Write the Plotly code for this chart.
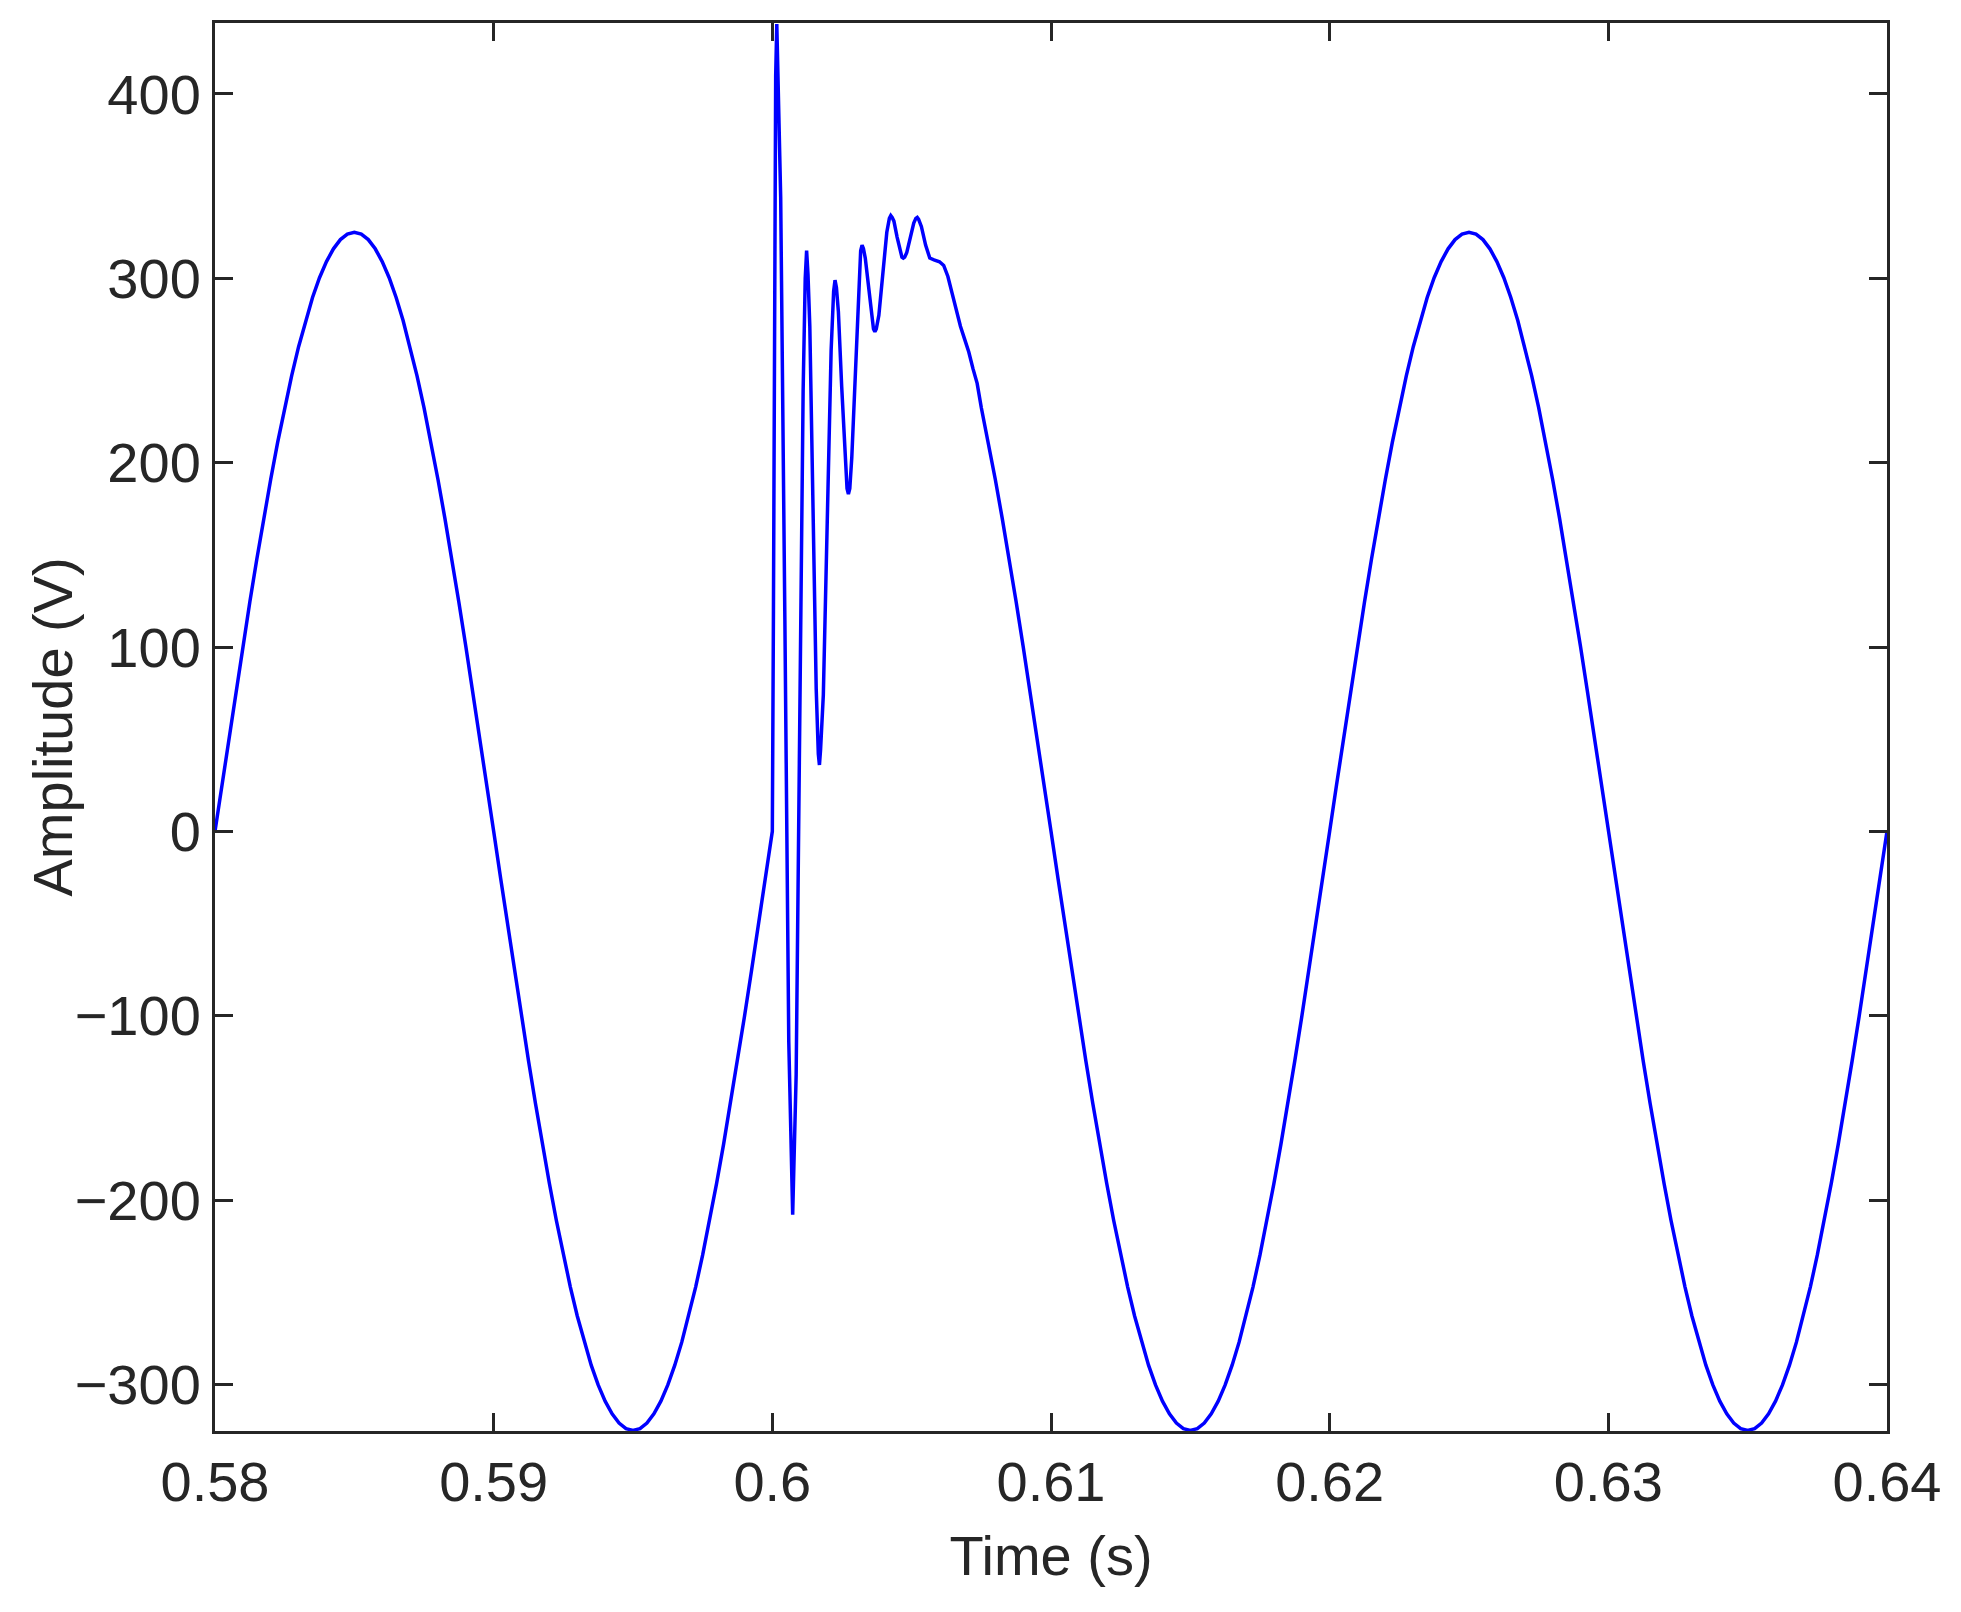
import plotly.graph_objects as go

# ---- data ----
STEP = 0.00025
t_pre_start = 0.58
v_pre = [0, 25.5, 50.8, 75.9, 100.4, 124.4, 147.6, 169.8, 191.0, 211.1, 229.8, 247.1, 262.9, 277.1, 289.6,
         300.3, 309.1, 316.0, 321.0, 324.0, 325.0,
         324.0, 321.0, 316.0, 309.1, 300.3, 289.6, 277.1, 262.9, 247.1, 229.8, 211.1, 191.0, 169.8, 147.6,
         124.4, 100.4, 75.9, 50.8, 25.5, 0,
         -25.5, -50.8, -75.9, -100.4, -124.4, -147.6, -169.8, -191.0, -211.1, -229.8, -247.1, -262.9, -277.1,
         -289.6, -300.3, -309.1, -316.0, -321.0, -324.0, -325.0,
         -324.0, -321.0, -316.0, -309.1, -300.3, -289.6, -277.1, -262.9, -247.1, -229.8, -211.1, -191.0,
         -169.8, -147.6, -124.4, -100.4, -75.9, -50.8, -25.5, 0]

t_fault = [0.60004, 0.60008, 0.60012, 0.60016, 0.60030, 0.60045, 0.60059, 0.60073, 0.600855, 0.60098,
           0.601105, 0.60118, 0.60123, 0.60128, 0.601345, 0.60146, 0.601575, 0.60165, 0.60169, 0.60173,
           0.60183, 0.60197, 0.60211, 0.60220, 0.60225, 0.60230, 0.60237, 0.60249, 0.60261, 0.60268,
           0.60273, 0.60278, 0.602852, 0.602975, 0.603098, 0.60317, 0.60322, 0.60327, 0.603335, 0.60345,
           0.603565, 0.60363, 0.60368, 0.60373, 0.603823, 0.603965, 0.604108, 0.60420, 0.60425, 0.60430,
           0.604363, 0.604475, 0.604588, 0.60465, 0.60470, 0.60475, 0.604825, 0.60495, 0.605075, 0.60515,
           0.60520, 0.60525, 0.60535, 0.60550, 0.60565, 0.60580, 0.60600, 0.60615, 0.60630, 0.60645,
           0.60660, 0.60675, 0.60690, 0.60705, 0.60720, 0.60735]
v_fault = [120, 300, 410, 438, 344, 115, -114, -208, -132, 53.5,
           239, 300, 315, 302, 274, 175.5, 77, 42, 36, 44,
           74, 167.5, 261, 293, 299, 295, 282, 241, 200, 186,
           183, 186, 203, 250.5, 298, 315, 318, 316, 311, 294.5,
           278, 272.5, 271, 272.5, 280, 302.5, 325, 332.5, 334, 333,
           331, 322.5, 314, 311.5, 311, 311.5, 314, 322, 330, 332.5,
           333, 332, 328, 318, 311, 310, 309, 307, 301, 292,
           282, 274, 267, 260, 251, 243]

t_post_start = 0.6075
v_post = [229.8, 211.1, 191.0, 169.8, 147.6, 124.4, 100.4, 75.9, 50.8, 25.5, 0,
          -25.5, -50.8, -75.9, -100.4, -124.4, -147.6, -169.8, -191.0, -211.1, -229.8, -247.1, -262.9, -277.1,
          -289.6, -300.3, -309.1, -316.0, -321.0, -324.0, -325.0,
          -324.0, -321.0, -316.0, -309.1, -300.3, -289.6, -277.1, -262.9, -247.1, -229.8, -211.1, -191.0,
          -169.8, -147.6, -124.4, -100.4, -75.9, -50.8, -25.5, 0,
          25.5, 50.8, 75.9, 100.4, 124.4, 147.6, 169.8, 191.0, 211.1, 229.8, 247.1, 262.9, 277.1, 289.6,
          300.3, 309.1, 316.0, 321.0, 324.0, 325.0,
          324.0, 321.0, 316.0, 309.1, 300.3, 289.6, 277.1, 262.9, 247.1, 229.8, 211.1, 191.0, 169.8, 147.6,
          124.4, 100.4, 75.9, 50.8, 25.5, 0,
          -25.5, -50.8, -75.9, -100.4, -124.4, -147.6, -169.8, -191.0, -211.1, -229.8, -247.1, -262.9, -277.1,
          -289.6, -300.3, -309.1, -316.0, -321.0, -324.0, -325.0,
          -324.0, -321.0, -316.0, -309.1, -300.3, -289.6, -277.1, -262.9, -247.1, -229.8, -211.1, -191.0,
          -169.8, -147.6, -124.4, -100.4, -75.9, -50.8, -25.5, 0]

x_tick_vals = [0.58, 0.59, 0.60, 0.61, 0.62, 0.63, 0.64]
x_tick_text = ["0.58", "0.59", "0.6", "0.61", "0.62", "0.63", "0.64"]
y_tick_vals = [-300, -200, -100, 0, 100, 200, 300, 400]
y_tick_text = ["\u2212300", "\u2212200", "\u2212100", "0", "100", "200", "300", "400"]
x_title = "Time (s)"
y_title = "Amplitude (V)"

# ---- assemble series ----
t_pre = [round(t_pre_start + i * STEP, 6) for i in range(len(v_pre))]
t_post = [round(t_post_start + i * STEP, 6) for i in range(len(v_post))]
t_all = t_pre + t_fault + t_post
v_all = v_pre + v_fault + v_post

FONT = "Liberation Sans, Arial, Helvetica, sans-serif"
INK = "#262626"

fig = go.Figure()
fig.add_trace(go.Scatter(x=t_all, y=v_all, mode="lines",
                         line=dict(color="#0000ff", width=3.5), hoverinfo="x+y"))

axis_common = dict(
    showgrid=False, zeroline=False, showline=True, linecolor=INK, linewidth=3,
    mirror="ticks", ticks="inside", ticklen=18, tickwidth=3, tickcolor=INK,
    tickfont=dict(family=FONT, size=56, color=INK),
)

fig.update_layout(
    width=1953, height=1604,
    margin=dict(l=207, r=74, t=15, b=181),
    paper_bgcolor="white", plot_bgcolor="white",
    showlegend=False,
    font=dict(family=FONT, color=INK),
    xaxis=dict(range=[0.58, 0.64], tickvals=x_tick_vals, ticktext=x_tick_text,
               title=dict(text=x_title, font=dict(family=FONT, size=56, color=INK), standoff=24),
               **axis_common),
    yaxis=dict(range=[-325.3, 438.5], tickvals=y_tick_vals, ticktext=y_tick_text,
               **axis_common),
    annotations=[dict(text=y_title, textangle=-90, xref="paper", yref="paper",
                      x=-0.0972, y=0.5, xanchor="center", yanchor="middle", showarrow=False,
                      font=dict(family=FONT, size=56, color=INK))],
)

fig.write_html("out.html")
